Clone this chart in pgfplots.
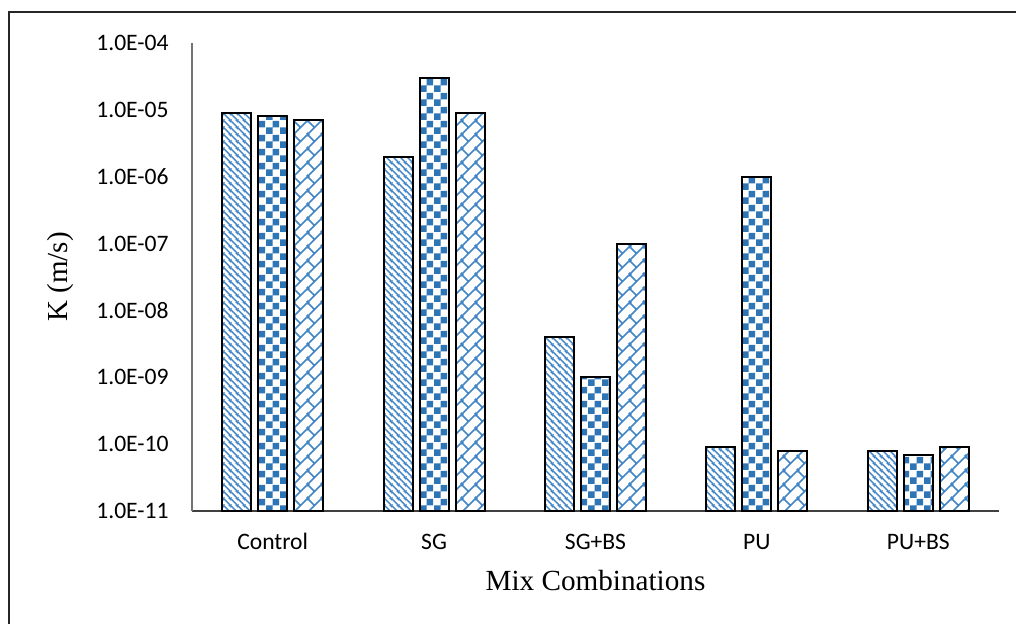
\documentclass[border=0pt]{standalone}
\usepackage{fontspec}
\setmainfont{Carlito}
\newfontfamily\timesf{Liberation Serif}
\usepackage{pgfplots}
\pgfplotsset{compat=1.18}
\usetikzlibrary{patterns}

% diagonal stripes "\" , spacing 3.5pt
\pgfdeclarepatternformonly{mystripes}{\pgfqpoint{0pt}{0pt}}{\pgfqpoint{3.5pt}{3.5pt}}{\pgfqpoint{3.5pt}{3.5pt}}{%
  \pgfsetlinewidth{0.85pt}%
  \pgfpathmoveto{\pgfqpoint{-1pt}{4.5pt}}\pgfpathlineto{\pgfqpoint{4.5pt}{-1pt}}%
  \pgfpathmoveto{\pgfqpoint{-1pt}{1pt}}\pgfpathlineto{\pgfqpoint{1pt}{-1pt}}%
  \pgfpathmoveto{\pgfqpoint{2.5pt}{4.5pt}}\pgfpathlineto{\pgfqpoint{4.5pt}{2.5pt}}%
  \pgfusepath{stroke}}

% checkerboard, squares 3.5pt
\pgfdeclarepatternformonly{mychecker}{\pgfqpoint{0pt}{0pt}}{\pgfqpoint{7pt}{7pt}}{\pgfqpoint{7pt}{7pt}}{%
  \pgfpathrectangle{\pgfqpoint{0pt}{0pt}}{\pgfqpoint{3.55pt}{3.55pt}}%
  \pgfpathrectangle{\pgfqpoint{3.5pt}{3.5pt}}{\pgfqpoint{3.55pt}{3.55pt}}%
  \pgfusepath{fill}}

% diagonal brick
\pgfdeclarepatternformonly{mybrick}{\pgfqpoint{0pt}{0pt}}{\pgfqpoint{7pt}{7pt}}{\pgfqpoint{7pt}{7pt}}{%
  \pgfsetlinewidth{0.85pt}%
  \pgfpathmoveto{\pgfqpoint{-1pt}{-1pt}}\pgfpathlineto{\pgfqpoint{8pt}{8pt}}%
  \pgfpathmoveto{\pgfqpoint{6pt}{-1pt}}\pgfpathlineto{\pgfqpoint{8pt}{1pt}}%
  \pgfpathmoveto{\pgfqpoint{-1pt}{6pt}}\pgfpathlineto{\pgfqpoint{1pt}{8pt}}%
  \pgfpathmoveto{\pgfqpoint{3.5pt}{3.5pt}}\pgfpathlineto{\pgfqpoint{0pt}{7pt}}%
  \pgfpathmoveto{\pgfqpoint{10.5pt}{3.5pt}}\pgfpathlineto{\pgfqpoint{7pt}{7pt}}%
  \pgfpathmoveto{\pgfqpoint{3.5pt}{-3.5pt}}\pgfpathlineto{\pgfqpoint{0pt}{0pt}}%
  \pgfpathmoveto{\pgfqpoint{10.5pt}{-3.5pt}}\pgfpathlineto{\pgfqpoint{7pt}{0pt}}%
  \pgfpathmoveto{\pgfqpoint{3.5pt}{10.5pt}}\pgfpathlineto{\pgfqpoint{0pt}{14pt}}%
  \pgfusepath{stroke}}

\definecolor{checkblue}{RGB}{46,117,182}
\definecolor{lineblue}{RGB}{66,133,199}

\begin{document}
\begin{tikzpicture}
\useasboundingbox (0pt,0pt) rectangle (508pt,311.5pt);
\draw[line width=1pt, black!85] (4.25pt,-10pt) -- (4.25pt,305.25pt) -- (520pt,305.25pt);
\begin{axis}[
  at={(96pt,56pt)}, anchor=south west, scale only axis,
  width=403.5pt, height=234pt,
  ymode=log, log origin=infty,
  ymin=1e-11, ymax=1e-4,
  xmin=-0.5, xmax=4.5,
  ybar=3.5pt, bar width=14.5pt,
  axis x line=bottom, axis y line=left,
  axis line style={-},
  x axis line style={draw=black!75, line width=0.8pt},
  y axis line style={draw=black!55, line width=0.8pt},
  xtick={0,1,2,3,4},
  xticklabels={Control,SG,SG+BS,PU,PU+BS},
  ytick={1e-11,1e-10,1e-9,1e-8,1e-7,1e-6,1e-5,1e-4},
  yticklabels={1.0E-11,1.0E-10,1.0E-09,1.0E-08,1.0E-07,1.0E-06,1.0E-05,1.0E-04},
  major tick length=0pt, minor tick length=0pt,
  minor y tick num=0,
  tick label style={font=\fontsize{11.8}{14}\selectfont, text=black},
  yticklabel style={anchor=east, inner sep=0pt, xshift=-11.5pt},
  xticklabel style={anchor=base, inner sep=0pt, yshift=-19pt},
  xlabel={Mix Combinations},
  xlabel style={at={(axis description cs:0.5,-0.1688)}, anchor=base, inner sep=0pt, font=\timesf\fontsize{14.6}{17}\selectfont},
  ylabel={K (m/s)},
  ylabel style={at={(axis description cs:-0.1537,0.5)}, anchor=base, inner sep=0pt, font=\timesf\fontsize{14.5}{17}\selectfont},
]
\addplot[draw=black, line width=1pt, pattern=mystripes, pattern color=lineblue]
  coordinates {(0,9e-6) (1,2e-6) (2,4e-9) (3,9e-11) (4,8e-11)};
\addplot[draw=black, line width=1pt, pattern=mychecker, pattern color=checkblue]
  coordinates {(0,8e-6) (1,3e-5) (2,1e-9) (3,1e-6) (4,7e-11)};
\addplot[draw=black, line width=1pt, pattern=mybrick, pattern color=lineblue]
  coordinates {(0,7e-6) (1,9e-6) (2,1e-7) (3,8e-11) (4,9e-11)};
\end{axis}
\end{tikzpicture}
\end{document}
